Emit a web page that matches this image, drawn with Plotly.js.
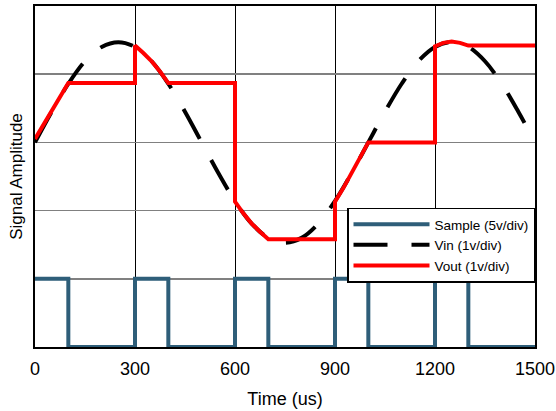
<!DOCTYPE html>
<html>
<head>
<meta charset="utf-8">
<script src="https://cdn.plot.ly/plotly-3.0.1.min.js"></script>
<style>html,body{margin:0;padding:0;background:#fff;}#chart{width:556px;height:411px;}</style>
</head>
<body>
<div id="chart"></div>
<script>
// Sample (gate) signal, 5v/div
var sampleT = [0, 100, 100, 300, 300, 400, 400, 600, 600, 700, 700, 900, 900, 1000, 1000, 1200, 1200, 1300, 1300, 1500];
var sampleV = [1, 1, 0, 0, 1, 1, 0, 0, 1, 1, 0, 0, 1, 1, 0, 0, 1, 1, 0, 0];

// Input signal, 1v/div (read every 50 us)
var vinT = [0, 50, 100, 150, 200, 250, 300, 350, 400, 450, 500, 550, 600, 650, 700, 750, 800, 850, 900, 950, 1000, 1050, 1100, 1150, 1200, 1250, 1300, 1350, 1400, 1450, 1500];
var vinV = [3.00, 3.45, 3.86, 4.19, 4.40, 4.47, 4.40, 4.19, 3.86, 3.45, 3.00, 2.55, 2.14, 1.81, 1.60, 1.53, 1.60, 1.81, 2.14, 2.55, 3.00, 3.45, 3.86, 4.19, 4.40, 4.47, 4.40, 4.19, 3.86, 3.45, 3.00];

// Output (sample & hold), 1v/div
var voutT = [0, 25, 50, 75, 100, 300, 300, 325, 350, 375, 400, 600, 600, 625, 650, 675, 700, 900, 900, 925, 950, 975, 1000, 1200, 1200, 1225, 1250, 1275, 1300, 1500];
var voutV = [3.05, 3.25, 3.45, 3.66, 3.87, 3.87, 4.42, 4.31, 4.19, 4.04, 3.87, 3.87, 2.13, 1.96, 1.81, 1.69, 1.58, 1.58, 2.13, 2.33, 2.55, 2.77, 3.00, 3.00, 4.41, 4.46, 4.48, 4.46, 4.42, 4.42];

var seriesNames = ['Sample (5v/div)', 'Vin (1v/div)', 'Vout (1v/div)'];
var xTicks = [0, 300, 600, 900, 1200, 1500];

var traces = [
  {x: sampleT, y: sampleV, name: seriesNames[0], mode: 'lines', type: 'scatter',
   line: {color: '#2E5E79', width: 4}},
  {x: vinT, y: vinV, name: seriesNames[1], mode: 'lines', type: 'scatter',
   line: {color: '#000000', width: 4, dash: '34px,24px', shape: 'spline', smoothing: 1}},
  {x: voutT, y: voutV, name: seriesNames[2], mode: 'lines', type: 'scatter',
   line: {color: '#FF0000', width: 4}}
];

var layout = {
  width: 556, height: 411,
  margin: {l: 34.5, r: 20.5, t: 6, b: 64.3, pad: 0},
  paper_bgcolor: '#ffffff', plot_bgcolor: '#ffffff',
  font: {family: 'Liberation Sans, Arial, sans-serif', color: '#000000'},
  showlegend: true,
  legend: {
    x: 1, xanchor: 'right', y: 0.409, yanchor: 'top',
    bgcolor: '#ffffff', bordercolor: '#000000', borderwidth: 1.5,
    font: {size: 13.5, color: '#000000'}, itemwidth: 76,
    traceorder: 'normal'
  },
  xaxis: {
    range: [0, 1500], tickvals: xTicks, ticktext: xTicks.map(String),
    showgrid: true, gridcolor: '#000000', gridwidth: 1,
    showline: true, linecolor: '#000000', linewidth: 2, mirror: true,
    ticks: '', zeroline: false, ticklabelstandoff: 4,
    tickfont: {size: 18, color: '#000000'},
    title: {text: 'Time (us)', font: {size: 18, color: '#000000'}, standoff: 15}
  },
  yaxis: {
    range: [0, 5], dtick: 1, showticklabels: false,
    showgrid: true, gridcolor: '#808080', gridwidth: 1.5,
    showline: true, linecolor: '#000000', linewidth: 2, mirror: true,
    ticks: '', zeroline: false,
    title: {text: 'Signal Amplitude', font: {size: 17, color: '#000000'}, standoff: 6}
  }
};

Plotly.newPlot('chart', traces, layout, {displayModeBar: false, staticPlot: true});
</script>
</body>
</html>
